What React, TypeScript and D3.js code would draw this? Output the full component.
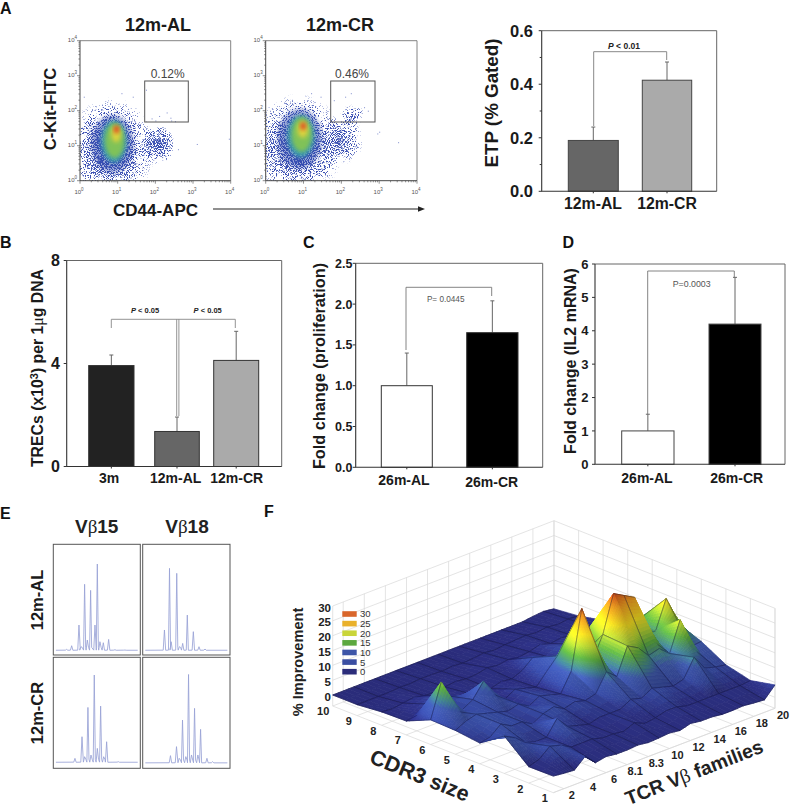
import React from "react";
import * as d3 from "d3";

const SANS = "'Liberation Sans', Arial, sans-serif";

// ---------- bar data ----------
const etpCats = ["12m-AL", "12m-CR"];
const etpVals = [0.19, 0.415];
const etpErrs = [0.24, 0.483];
const trecCats = ["3m", "12m-AL", "12m-CR"];
const trecVals = [3.92, 1.36, 4.12];
const trecErrs = [4.33, 1.92, 5.25];
const prolifCats = ["26m-AL", "26m-CR"];
const prolifVals = [1.0, 1.65];
const prolifErrs = [1.4, 2.04];
const il2Cats = ["26m-AL", "26m-CR"];
const il2Vals = [1.0, 4.2];
const il2Errs = [1.5, 5.6];

// ---------- flow cytometry density (decades): lx, ly, rx, ry, strength ----------
const speckleAL = [[0.82, 0.9, 1.2, 1.5, 1], [2.08, 1.02, 0.46, 0.58, 1]];
const speckleCR = [[0.85, 1.0, 1.25, 1.5, 1], [2.0, 1.15, 0.6, 0.7, 0.75], [2.3, 1.85, 0.34, 0.34, 0.65]];
const coreAL = [[0.86, 1.05, 0.56, 0.82, "#2e47ad"], [0.9, 1.12, 0.34, 0.6, "#3b9fae"], [0.92, 1.15, 0.26, 0.5, "#86c651"], [0.96, 1.33, 0.13, 0.24, "#e2d23c"], [0.97, 1.47, 0.07, 0.11, "#e0301e"]];
const coreCR = [[0.9, 1.2, 0.58, 0.85, "#2e47ad"], [0.93, 1.27, 0.36, 0.6, "#3b9fae"], [0.95, 1.32, 0.27, 0.5, "#86c651"], [0.98, 1.46, 0.14, 0.24, "#e2d23c"], [0.99, 1.56, 0.07, 0.11, "#e0301e"]];
const sparseAL = [[2.1, 1.85], [2.3, 1.95], [2.4, 1.8], [2.42, 1.72], [1.9, 1.78], [2.0, 1.72], [1.75, 2.6], [1.4, 2.4], [1.1, 2.5], [2.6, 0.9], [3.1, 1.05], [3.95, 1.2], [0.1, 2.4], [2.52, 1.7]];
const sparseCR = [[2.1, 2.4], [2.25, 2.5], [2.6, 2.1], [2.7, 2.0], [1.2, 2.5], [1.45, 2.4], [2.95, 1.35], [3.0, 1.4], [1.8, 2.3], [3.5, 1.1]];
const decadeLabels = [0, 1, 2, 3, 4];

// ---------- electropherogram peaks: position in panel, height in panel ----------
const peaksA = [[.153, .012], [.211, .045], [.295, .232], [.318, .036], [.36, .6], [.391, .096], [.429, .545], [.479, .232], [.506, .783], [.536, .081], [.575, .072], [.636, .102], [.709, .009], [.824, .006]];
const peaksB = [[.249, .187], [.307, .744], [.326, .081], [.39, .699], [.42, .036], [.458, .066], [.511, .322], [.58, .172], [.645, .036], [.714, .015]];
const peaksC = [[.249, .039], [.33, .234], [.36, .054], [.398, .498], [.433, .069], [.471, .79], [.506, .129], [.544, .51], [.579, .054], [.613, .189], [.747, .009]];
const peaksD = [[.318, .069], [.387, .15], [.418, .045], [.456, .39], [.494, .06], [.525, .8], [.559, .075], [.594, .495], [.632, .075], [.663, .306], [.736, .045], [.801, .015]];

// ---------- surface: rows CDR3 1..10, columns 22 TCR Vb families ----------
const cdr1 = [1.9, 1.5, 1.2, 4.4, 1.0, 1.7, 1.2, 1.2, 1.5, 1.0, 1.2, 1.5, 1.0, 2, 1.5, 1.5, 1.0, 1.0, 1.2, 0.8, 0.5, 4.2];
const cdr2 = [1.8, 3, 6, 5, 3, 3, 3, 2, 2, 1.5, 3, 1.5, 2, 3, 3, 2, 2, 2, 2, 2, 2, 2.4];
const cdr3 = [8.9, 7, 4, 3, 3, 8, 4, 3, 2, 3, 3, 3, 5, 4, 6, 5, 4, 5, 11, 6, 5, 4.4];
const cdr4 = [3.3, 4, 7, 5, 5, 3, 5, 6, 4, 5, 4, 5, 11, 8, 17, 15, 11, 12, 9, 19, 8.6, 9];
const cdr5 = [4.3, 6, 7, 6, 5, 4, 5, 3, 5, 4, 3, 9.3, 29, 10, 17.6, 30, 28, 26, 12, 12, 21.5, 12];
const cdr6 = [4.6, 16, 5, 4, 6, 10.8, 5, 2, 4, 3, 2, 6, 9.8, 7, 6, 15, 14, 14, 12, 12, 12, 11];
const cdr7 = [1, 1.5, 4, 5, 4, 1.5, 2, 1.5, 1, 2, 1.5, 3, 6, 5, 3, 5, 5, 4, 3, 3, 5, 8];
const cdr8 = [0.8, 0.5, 1, 1.5, 0.8, 0.5, 1, 1.5, 1, 1.2, 2, 1.5, 2, 1.5, 2, 3, 2, 2.5, 2, 1.5, 2, 3];
const cdr9 = [0, 0, 0, 0, 0.3, 0.2, 0.5, 0.5, 0.3, 0.6, 0.3, 0.5, 1, 0.6, 1, 1.2, 1.5, 1, 1.5, 1, 1.5, 1.2];
const cdr10 = [0, 0, 0, 0, 0, 0, 0, 0, 0, 0, 0, 0, 0, 0, 0, 0, 0, 0, 0, 0.5, 0.8, 0.3];
const surface = [cdr1, cdr2, cdr3, cdr4, cdr5, cdr6, cdr7, cdr8, cdr9, cdr10];
const cdrLabels = ["1", "2", "3", "4", "5", "6", "7", "8", "9", "10"];
const vbLabels = ["", "2", "", "4", "", "6", "", "8.1", "", "8.3", "", "10", "", "12", "", "14", "", "16", "", "18", "", "20"];
const zTicks = [0, 5, 10, 15, 20, 25, 30];
const legendVals = [30, 25, 20, 15, 10, 5, 0];
const legendCols = ["#d9662b", "#e9b12c", "#c9d53a", "#5ca83f", "#3d55a8", "#3a4ea2", "#2b2d7a"];

// ---------- surface projection ----------
const flo = { F: [553.3, 792.7], L: [332.7, 706], R: [775, 708.3], B: [554, 620.7] };
const uS = d3.scaleLinear().domain([0, 9]).range([0, 1]);
const wS = d3.scaleLinear().domain([0, 21]).range([0, 1]);
const zS = d3.scaleLinear().domain([-3.7, 30]).range([0, 100]);
function project(c: number, v: number, z: number): [number, number] {
  const u = uS(c), w = wS(v);
  const f = (k: number) => flo.F[k] * (1 - u) * (1 - w) + flo.L[k] * u * (1 - w) + flo.R[k] * (1 - u) * w + flo.B[k] * u * w;
  return [f(0), f(1) - zS(z)];
}
const zColor = d3.scaleLinear<string>()
  .domain([0, 2.5, 5, 8.5, 10.5, 14, 17.5, 21, 26, 30])
  .range(["#2a2c7a", "#2c3082", "#35489e", "#3d56a8", "#3f7d8e", "#5aa83e", "#b2cf34", "#f0da22", "#ee9c22", "#d64f1c"])
  .interpolate(d3.interpolateRgb);

type Poly = { d: string; fill: string };
type Edge = { d: string };
function pathOf(pts: [number, number][]) {
  return "M" + pts.map(p => p[0].toFixed(1) + "," + p[1].toFixed(1)).join("L") + "Z";
}
function buildSurface() {
  const items: (Poly | Edge)[] = [];
  for (let c = 8; c >= 0; c--) {
    for (let v = 20; v >= 0; v--) {
      const a = surface[c][v], b = surface[c][v + 1], e = surface[c + 1][v], g = surface[c + 1][v + 1];
      const range = Math.max(a, b, e, g) - Math.min(a, b, e, g);
      const n = Math.max(2, Math.min(24, Math.ceil(range / 1.1)));
      const zAt = (s: number, t: number) => a * (1 - s) * (1 - t) + b * (1 - s) * t + e * s * (1 - t) + g * s * t;
      for (let i = n - 1; i >= 0; i--) {
        for (let j = n - 1; j >= 0; j--) {
          const s0 = i / n, s1 = (i + 1) / n, t0 = j / n, t1 = (j + 1) / n;
          const z00 = zAt(s0, t0), z01 = zAt(s0, t1), z10 = zAt(s1, t0), z11 = zAt(s1, t1);
          const zm = (z00 + z01 + z10 + z11) / 4;
          const slopeV = ((z01 + z11) - (z00 + z10)) / 2 * n;
          const slopeC = ((z10 + z11) - (z00 + z01)) / 2 * n;
          const shade = Math.max(0.82, Math.min(1.18, 1 + 0.02 * (slopeV - slopeC)));
          const col = d3.rgb(zColor(zm));
          const fill = d3.rgb(col.r * shade, col.g * shade, col.b * shade).formatRgb();
          const pts: [number, number][] = [
            project(c + s0, v + t0, z00), project(c + s0, v + t1, z01),
            project(c + s1, v + t1, z11), project(c + s1, v + t0, z10)
          ];
          items.push({ d: pathOf(pts), fill });
        }
      }
      const edge: string[] = [];
      const pa = project(c, v, a), pb = project(c, v + 1, b), pe = project(c + 1, v, e), pg = project(c + 1, v + 1, g);
      edge.push(`M${pa[0].toFixed(1)},${pa[1].toFixed(1)}L${pb[0].toFixed(1)},${pb[1].toFixed(1)}`);
      edge.push(`M${pe[0].toFixed(1)},${pe[1].toFixed(1)}L${pg[0].toFixed(1)},${pg[1].toFixed(1)}`);
      if (v % 2 === 0) edge.push(`M${pa[0].toFixed(1)},${pa[1].toFixed(1)}L${pe[0].toFixed(1)},${pe[1].toFixed(1)}`);
      if (v % 2 === 1) edge.push(`M${pb[0].toFixed(1)},${pb[1].toFixed(1)}L${pg[0].toFixed(1)},${pg[1].toFixed(1)}`);
      items.push({ d: edge.join("") });
    }
  }
  return items;
}
const surfaceItems = buildSurface();

// ---------- components ----------
type BarProps = {
  x0: number; x1: number; yTop: number; yBot: number; max: number;
  ticks: number[]; minor?: number[]; fmt: (n: number) => string; tickFs: number; tickX: number;
  vals: number[]; errs: number[]; spans: [number, number][]; fills: string[]; barStroke: string;
  cats: string[]; catX: number[]; catY: number[]; catFs: number;
};
function Bars(p: BarProps) {
  const y = d3.scaleLinear().domain([0, p.max]).range([p.yBot, p.yTop]);
  return (
    <g fontFamily={SANS}>
      <path d={`M${p.x0},${p.yTop}H${p.x1}V${p.yBot}`} fill="none" stroke="#666" strokeWidth={1} />
      {p.vals.map((v, i) => {
        const cx = (p.spans[i][0] + p.spans[i][1]) / 2;
        return (
          <g key={i}>
            <path d={`M${cx},${y(v)}V${y(p.errs[i])}M${cx - 2},${y(p.errs[i])}H${cx + 2}`} stroke="#666" strokeWidth={1} fill="none" />
            <rect x={p.spans[i][0]} width={p.spans[i][1] - p.spans[i][0]} y={y(v)} height={y(0) - y(v)} fill={p.fills[i]} stroke={p.barStroke} strokeWidth={1} />
            <line x1={cx} x2={cx} y1={p.yBot} y2={p.yBot + 2} stroke="#333" />
          </g>
        );
      })}
      <path d={`M${p.x0},${p.yTop}V${p.yBot}H${p.x1}`} fill="none" stroke="#333" strokeWidth={1.1} />
      {p.ticks.map(t => (
        <g key={t}>
          <line x1={p.x0 - 3} x2={p.x0} y1={y(t)} y2={y(t)} stroke="#333" />
          <text x={p.tickX} y={y(t)} dy="0.36em" textAnchor="end" fontWeight="bold" fontSize={p.tickFs} fill="#1a1a1a">{p.fmt(t)}</text>
        </g>
      ))}
      {(p.minor || []).map(t => <line key={t} x1={p.x0 - 2} x2={p.x0} y1={y(t)} y2={y(t)} stroke="#333" />)}
      {p.cats.map((c, i) => (
        <text key={c} x={p.catX[i]} y={p.catY[i]} textAnchor="middle" fontWeight="bold" fontSize={p.catFs} fill="#1a1a1a">{c}</text>
      ))}
    </g>
  );
}

type FlowProps = {
  id: string; x0: number; x1: number; speckle: number[][]; core: any[][]; sparse: number[][];
  gate: [number, number]; pct: string; pctX: number;
};
function Flow(p: FlowProps) {
  const yTop = 40.7, yBot = 180.7;
  const lx = d3.scaleLinear().domain([0, 4]).range([p.x0, p.x1]);
  const ly = d3.scaleLinear().domain([0, 4]).range([yBot, yTop]);
  const logX = d3.scaleLog().domain([1, 1e4]).range([p.x0, p.x1]);
  const logY = d3.scaleLog().domain([1, 1e4]).range([yBot, yTop]);
  const minors = logX.ticks();
  return (
    <g fontFamily={SANS}>
      <clipPath id={p.id}><rect x={p.x0} y={yTop} width={p.x1 - p.x0} height={yBot - yTop} /></clipPath>
      <g clipPath={`url(#${p.id})`}>
        <g filter="url(#grain)">
          {p.speckle.map((s, i) => (
            <ellipse key={i} cx={lx(s[0])} cy={ly(s[1])} rx={lx(s[2]) - lx(0)} ry={ly(0) - ly(s[3])} fill="url(#speck)" opacity={s[4]} />
          ))}
        </g>
        {p.core.map((s, i) => (
          <ellipse key={i} cx={lx(s[0])} cy={ly(s[1])} rx={lx(s[2]) - lx(0)} ry={ly(0) - ly(s[3])} fill={s[4]} opacity={i === 0 ? 0.5 : 0.92} filter="url(#soft)" />
        ))}
        {p.sparse.map((s, i) => <rect key={i} x={lx(s[0])} y={ly(s[1])} width={1} height={1} fill="#7f8ccc" />)}
      </g>
      <path d={`M${p.x0},${yTop}H${p.x1}V${yBot}`} fill="none" stroke="#777" strokeWidth={0.9} />
      <path d={`M${p.x0},${yTop}V${yBot}H${p.x1}`} fill="none" stroke="#333" strokeWidth={0.9} />
      {minors.map((t, i) => {
        const major = Math.abs(Math.log10(t) - Math.round(Math.log10(t))) < 1e-6;
        const len = major ? 3 : 1.6;
        return (
          <g key={i} stroke="#444" strokeWidth={0.6}>
            <line x1={logX(t)} x2={logX(t)} y1={yBot} y2={yBot + len} />
            <line x1={p.x0 - len} x2={p.x0} y1={logY(t)} y2={logY(t)} />
          </g>
        );
      })}
      {decadeLabels.map(d => (
        <g key={d} fontSize={6} fill="#555">
          <text x={lx(d) - 1} y={yBot + 13} textAnchor="middle">10<tspan dy={-3} fontSize={4.5}>{d}</tspan></text>
          <text x={p.x0 - 3} y={ly(d) + 1} textAnchor="end">10<tspan dy={-3} fontSize={4.5}>{d}</tspan></text>
        </g>
      ))}
      <rect x={p.gate[0]} y={81} width={p.gate[1] - p.gate[0]} height={41} fill="none" stroke="#555" strokeWidth={1} />
      <text x={p.pctX} y={77.5} textAnchor="middle" fontSize={12} fill="#444">{p.pct}</text>
    </g>
  );
}

function Trace({ x, y, w, h, base, peaks }: { x: number; y: number; w: number; h: number; base: number; peaks: number[][] }) {
  const sx = d3.scaleLinear().domain([0, 1]).range([x, x + w]);
  const sy = d3.scaleLinear().domain([0, 1]).range([base, base - h]);
  const pts: [number, number][] = [[0.03, 0.004]];
  peaks.forEach(([px, ph], i) => {
    const next = peaks[i + 1];
    const hw = ph > 0.3 ? 0.012 : 0.014;
    const valley = next && next[0] - px < 0.05 ? 0.03 : 0.004;
    pts.push([px - hw, 0.005], [px, ph], [px + hw, valley]);
  });
  pts.push([0.97, 0.004]);
  const line = d3.line<[number, number]>().x(d => sx(d[0])).y(d => sy(d[1]));
  return (
    <g>
      <rect x={x} y={y} width={w} height={h} fill="#fff" stroke="#555" strokeWidth={1} />
      <path d={line(pts) || ""} fill="none" stroke="#98a2d6" strokeWidth={0.85} strokeLinejoin="round" />
    </g>
  );
}

function VBeta({ x, y, n }: { x: number; y: number; n: string }) {
  return (
    <text x={x} y={y} textAnchor="middle" fontFamily={SANS} fontWeight="bold" fontSize={19} fill="#222">
      V<tspan fontFamily="'Liberation Serif', serif" fontWeight="normal">β</tspan>{n}
    </text>
  );
}

function Walls() {
  const lines: string[] = [];
  const seg = (a: [number, number], b: [number, number]) => `M${a[0].toFixed(1)},${a[1].toFixed(1)}L${b[0].toFixed(1)},${b[1].toFixed(1)}`;
  zTicks.forEach(z => {
    lines.push(seg(project(9, 0, z), project(9, 21, z)));
    lines.push(seg(project(0, 21, z), project(9, 21, z)));
  });
  cdrLabels.forEach((_, c) => {
    lines.push(seg(project(c, 21, -3.7), project(c, 21, 30)));
    lines.push(seg(project(c, 0, -3.7), project(c, 21, -3.7)));
  });
  vbLabels.forEach((l, v) => {
    if (!l) return;
    lines.push(seg(project(9, v, -3.7), project(9, v, 30)));
    lines.push(seg(project(0, v, -3.7), project(9, v, -3.7)));
  });
  lines.push(seg(project(9, 0, -3.7), project(9, 0, 30)));
  lines.push(seg(project(0, 21, -3.7), project(0, 21, 30)));
  lines.push(seg(project(0, 0, -3.7), project(9, 0, -3.7)));
  lines.push(seg(project(0, 0, -3.7), project(0, 21, -3.7)));
  return <path d={lines.join("")} fill="none" stroke="#d8d8d8" strokeWidth={0.7} />;
}

const fmt1 = (n: number) => n.toFixed(1);
const fmt0 = (n: number) => String(n);

export default function App() {
  return (
    <svg width={800} height={812} viewBox="0 0 800 812" style={{ position: "absolute", left: 0, top: 0, background: "#fff" }}>
      <defs>
        <radialGradient id="speck">
          <stop offset="0" stopColor="#000" stopOpacity={0.95} />
          <stop offset="0.4" stopColor="#000" stopOpacity={0.66} />
          <stop offset="0.72" stopColor="#000" stopOpacity={0.36} />
          <stop offset="1" stopColor="#000" stopOpacity={0} />
        </radialGradient>
        <filter id="grain" x="-10%" y="-10%" width="120%" height="120%" colorInterpolationFilters="sRGB">
          <feTurbulence type="fractalNoise" baseFrequency="1.05" numOctaves={2} seed={7} result="n" />
          <feColorMatrix in="n" type="matrix" values="0 0 0 0 0  0 0 0 0 0  0 0 0 0 0  3 0 0 0 -1" result="na" />
          <feColorMatrix in="SourceGraphic" type="matrix" values="0 0 0 0 0  0 0 0 0 0  0 0 0 0 0  0 0 0 1 0" result="sa" />
          <feComposite in="sa" in2="na" operator="arithmetic" k1={0} k2={3.5} k3={3.5} k4={-3.5} result="th" />
          <feFlood floodColor="#3d52b4" result="fl" />
          <feComposite in="fl" in2="th" operator="in" result="dots" />
          <feGaussianBlur in="dots" stdDeviation={0.3} />
        </filter>
        <filter id="soft" x="-30%" y="-30%" width="160%" height="160%" colorInterpolationFilters="sRGB">
          <feGaussianBlur stdDeviation={2.2} />
        </filter>
      </defs>

      {/* panel letters */}
      <g fontFamily={SANS} fontWeight="bold" fontSize={16} fill="#111">
        <text x={0} y={13.5}>A</text>
        <text x={0} y={248}>B</text>
        <text x={303} y={248}>C</text>
        <text x={562.5} y={248}>D</text>
        <text x={0} y={519}>E</text>
        <text x={264} y={517}>F</text>
      </g>

      {/* A */}
      <g fontFamily={SANS} fontWeight="bold" fill="#1a1a1a">
        <text x={158} y={30.5} textAnchor="middle" fontSize={18}>12m-AL</text>
        <text x={340} y={30.5} textAnchor="middle" fontSize={18}>12m-CR</text>
        <text transform="translate(56,109) rotate(-90)" textAnchor="middle" fontSize={16.7}>C-Kit-FITC</text>
        <text x={155.5} y={216} textAnchor="middle" fontSize={17}>CD44-APC</text>
      </g>
      <Flow id="clipAL" x0={80} x1={230.7} speckle={speckleAL} core={coreAL} sparse={sparseAL} gate={[144.7, 188.3]} pct="0.12%" pctX={167.7} />
      <Flow id="clipCR" x0={265.7} x1={417} speckle={speckleCR} core={coreCR} sparse={sparseCR} gate={[330.7, 375]} pct="0.46%" pctX={352} />
      <path d="M213,209H420" stroke="#222" strokeWidth={1.1} />
      <path d="M425,209L418,206.2V211.8Z" fill="#222" />

      <Bars x0={541.7} x1={716.7} yTop={30.7} yBot={191.3} max={0.6} ticks={[0, 0.2, 0.4, 0.6]} minor={[0.1, 0.3, 0.5]} fmt={fmt1} tickFs={16.5} tickX={533}
        vals={etpVals} errs={etpErrs} spans={[[568.3, 618.3], [642.3, 691.7]]} fills={["#666666", "#aaaaaa"]} barStroke="#444"
        cats={etpCats} catX={[593, 667]} catY={[209, 209]} catFs={15.8} />
      <path d="M593.7,126V51.7H666.7V60" fill="none" stroke="#888" strokeWidth={1} />
      <text x={624} y={48.5} textAnchor="middle" fontFamily={SANS} fontWeight="bold" fontSize={8.5} fill="#222"><tspan fontStyle="italic">P</tspan> &lt; 0.01</text>
      <text transform="translate(498,103) rotate(-90)" textAnchor="middle" fontFamily={SANS} fontWeight="bold" fontSize={18.8} fill="#1a1a1a">ETP (% Gated)</text>

      {/* B */}
      <Bars x0={66.7} x1={281.7} yTop={260.5} yBot={466.5} max={8} ticks={[0, 4, 8]} fmt={fmt0} tickFs={16} tickX={60}
        vals={trecVals} errs={trecErrs} spans={[[88.7, 134], [154.7, 199.3], [213.7, 258.7]]} fills={["#222222", "#666666", "#aaaaaa"]} barStroke="#333"
        cats={trecCats} catX={[109, 175.7, 236.7]} catY={[483, 483, 483]} catFs={14} />
      <path d="M111.3,328V319.3H235.3V328M176.7,319.3V416M178.9,319.3V416" fill="none" stroke="#888" strokeWidth={0.9} />
      <g fontFamily={SANS} fontWeight="bold" fontSize={7.5} fill="#222" textAnchor="middle">
        <text x={145} y={313}><tspan fontStyle="italic">P</tspan> &lt; 0.05</text>
        <text x={207.7} y={313}><tspan fontStyle="italic">P</tspan> &lt; 0.05</text>
      </g>
      <text transform="translate(43,368) rotate(-90)" textAnchor="middle" fontFamily={SANS} fontWeight="bold" fontSize={15.8} fill="#1a1a1a">
        TRECs (x10<tspan dy={-5} fontSize={11}>3</tspan><tspan dy={5}>) per 1</tspan><tspan fontFamily="'Liberation Serif', serif" fontWeight="normal">μ</tspan>g DNA
      </text>

      {/* C */}
      <Bars x0={355.7} x1={542.7} yTop={263.3} yBot={467.3} max={2.5} ticks={[0, 0.5, 1, 1.5, 2, 2.5]} fmt={fmt1} tickFs={12.5} tickX={352.5}
        vals={prolifVals} errs={prolifErrs} spans={[[381.3, 432.3], [466.7, 518]]} fills={["#ffffff", "#000000"]} barStroke="#333"
        cats={prolifCats} catX={[404, 491.7]} catY={[485, 487]} catFs={14} />
      <path d="M406,350V287.3H491.7V296" fill="none" stroke="#777" strokeWidth={0.9} />
      <text x={445.7} y={302} textAnchor="middle" fontFamily={SANS} fontSize={8.2} fill="#555">P= 0.0445</text>
      <text transform="translate(325,366) rotate(-90)" textAnchor="middle" fontFamily={SANS} fontWeight="bold" fontSize={16.3} fill="#1a1a1a">Fold change (proliferation)</text>

      {/* D */}
      <Bars x0={595} x1={785} yTop={264} yBot={464.3} max={6} ticks={[0, 1, 2, 3, 4, 5, 6]} fmt={fmt0} tickFs={13} tickX={588.5}
        vals={il2Vals} errs={il2Errs} spans={[[621.7, 674], [709, 761]]} fills={["#ffffff", "#000000"]} barStroke="#444"
        cats={il2Cats} catX={[647, 736.7]} catY={[483, 483]} catFs={14} />
      <path d="M647.7,414V271H734.3V277" fill="none" stroke="#777" strokeWidth={0.9} />
      <text x={691.7} y={286.5} textAnchor="middle" fontFamily={SANS} fontSize={8.8} fill="#555">P=0.0003</text>
      <text transform="translate(576,361) rotate(-90)" textAnchor="middle" fontFamily={SANS} fontWeight="bold" fontSize={16} fill="#1a1a1a">Fold change (IL2 mRNA)</text>

      {/* E */}
      <VBeta x={96.7} y={533} n="15" />
      <VBeta x={187} y={533} n="18" />
      <Trace x={53.3} y={544.3} w={87} h={110.7} base={650.7} peaks={peaksA} />
      <Trace x={142.7} y={544.3} w={87.3} h={110.7} base={650.7} peaks={peaksB} />
      <Trace x={53.3} y={657.3} w={87} h={111} base={762.7} peaks={peaksC} />
      <Trace x={142.7} y={657.3} w={87.3} h={111} base={763.3} peaks={peaksD} />
      <g fontFamily={SANS} fontWeight="bold" fontSize={16.5} fill="#1a1a1a" textAnchor="middle">
        <text transform="translate(43,600) rotate(-90)">12m-AL</text>
        <text transform="translate(43,713) rotate(-90)">12m-CR</text>
      </g>

      {/* F */}
      <Walls />
      <g>
        {surfaceItems.map((it, i) =>
          "fill" in it
            ? <path key={i} d={it.d} fill={it.fill} stroke={it.fill} strokeWidth={0.7} />
            : <path key={i} d={it.d} fill="none" stroke="#0a0a30" strokeOpacity={0.6} strokeWidth={0.6} />
        )}
      </g>
      <g fontFamily={SANS} fontWeight="bold" fill="#222">
        {zTicks.map(z => (
          <text key={z} x={331} y={project(9, 0, z)[1] + 1.5} dy="0.36em" textAnchor="end" fontSize={11.5}>{z}</text>
        ))}
        {cdrLabels.map((l, c) => {
          const p = project(c, 0, -3.7);
          return <text key={l} x={p[0] - 8.5 - (c === 9 ? 1 : 0)} y={p[1] + 5.5} dy="0.36em" textAnchor="middle" fontSize={11}>{l}</text>;
        })}
        {vbLabels.map((l, v) => {
          if (!l) return null;
          const p = project(0, v, -3.7);
          return <text key={v} x={p[0] + 8} y={p[1] + 6.5} dy="0.36em" textAnchor="middle" fontSize={11}>{l}</text>;
        })}
        <text transform="translate(298,662) rotate(-90)" textAnchor="middle" dy="0.36em" fontSize={14.6}>% Improvement</text>
        <text transform="translate(420,775) rotate(22)" textAnchor="middle" dy="0.36em" fontSize={21.5}>CDR3 size</text>
        <text transform="translate(694,772) rotate(-21.5)" textAnchor="middle" dy="0.36em" fontSize={19.5}>
          TCR V<tspan fontFamily="'Liberation Serif', serif" fontWeight="normal">β</tspan> families
        </text>
      </g>
      {legendVals.map((v, i) => {
        const ly = d3.scaleLinear().domain([0, 6]).range([614, 671.7]);
        return (
          <g key={v}>
            <rect x={342.3} y={ly(i) - 2.8} width={14.4} height={5.6} fill={legendCols[i]} />
            <text x={360} y={ly(i)} dy="0.36em" fontFamily={SANS} fontSize={9.5} fill="#333">{v}</text>
          </g>
        );
      })}
    </svg>
  );
}
